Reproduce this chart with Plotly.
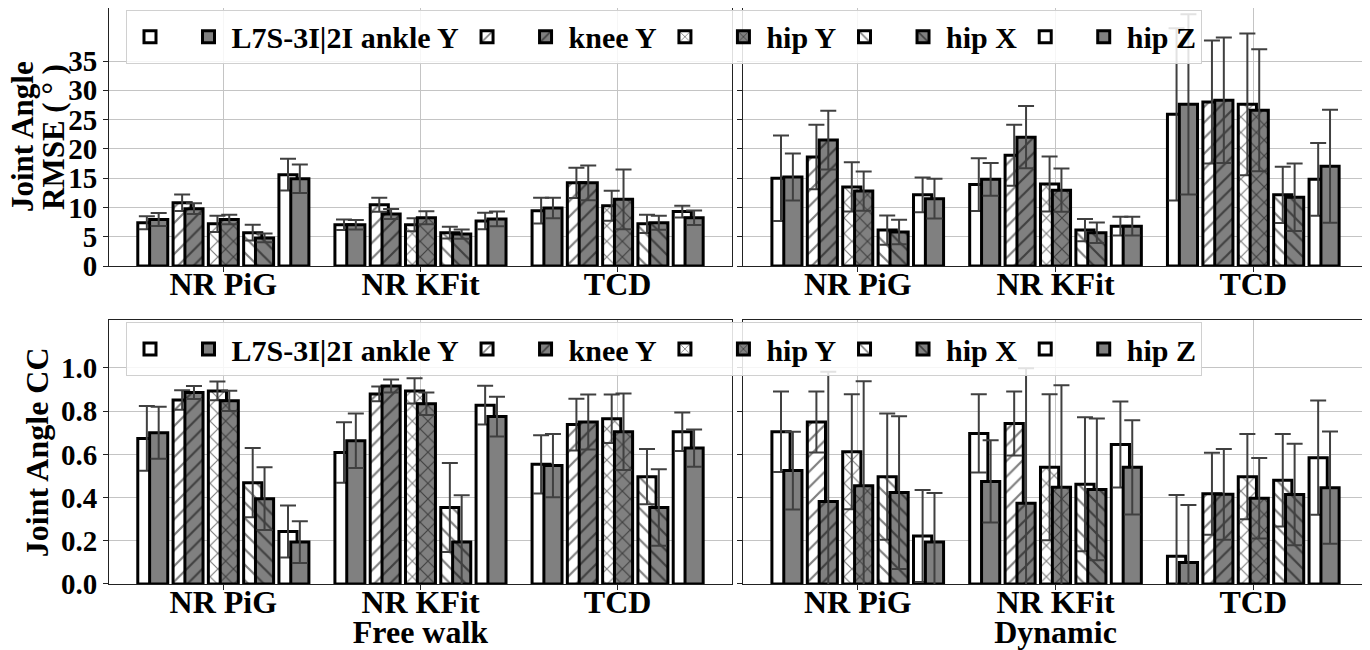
import plotly.graph_objects as go

categories = ["NR PiG", "NR KFit", "TCD"]
joints = ["L7S-3I|2I ankle Y", "knee Y", "hip Y", "hip X", "hip Z"]
patterns = ["", "/", "x", "\\", ""]

# values are [joint][category]
rmse_free_w = [[7.4, 7.05, 9.45], [10.8, 10.45, 14.2], [7.2, 7.05, 10.3], [5.7, 5.7, 7.2], [15.6, 7.7, 9.3]]
rmse_free_w_err = [[1.1, 0.9, 2.2], [1.4, 1.2, 2.6], [1.4, 1.1, 2.55], [1.35, 1.0, 1.55], [2.7, 1.4, 1.0]]
rmse_free_g = [[7.95, 7.05, 9.9], [9.8, 8.9, 14.2], [7.95, 8.25, 11.4], [4.8, 5.45, 7.4], [14.9, 8.05, 8.25]]
rmse_free_g_err = [[1.1, 0.8, 1.75], [0.9, 0.85, 2.95], [0.8, 1.1, 5.1], [0.75, 0.8, 1.2], [2.45, 1.25, 1.25]]

rmse_dyn_w = [[15.0, 13.9, 25.9], [18.6, 18.9, 28.0], [13.5, 14.0, 27.6], [6.15, 6.15, 12.15], [12.15, 6.8, 14.8]]
rmse_dyn_w_err = [[7.3, 4.5, 14.7], [5.5, 5.2, 10.5], [4.2, 4.7, 12.1], [2.5, 1.9, 4.8], [2.95, 1.6, 6.2]]
rmse_dyn_g = [[15.2, 14.8, 27.6], [21.5, 22.0, 28.3], [12.8, 12.95, 26.6], [5.8, 5.7, 11.75], [11.5, 6.8, 17.05]]
rmse_dyn_g_err = [[4.0, 2.8, 15.4], [5.0, 5.3, 10.7], [3.35, 3.7, 10.4], [2.1, 1.75, 5.75], [3.4, 1.6, 9.65]]

cc_free_w = [[0.674, 0.609, 0.554], [0.852, 0.88, 0.738], [0.894, 0.894, 0.765], [0.469, 0.354, 0.497], [0.243, 0.828, 0.705]]
cc_free_w_err = [[0.15, 0.14, 0.135], [0.045, 0.034, 0.12], [0.043, 0.058, 0.112], [0.16, 0.206, 0.128], [0.12, 0.09, 0.089]]
cc_free_g = [[0.70, 0.663, 0.548], [0.886, 0.917, 0.75], [0.848, 0.834, 0.705], [0.395, 0.194, 0.354], [0.194, 0.775, 0.629]]
cc_free_g_err = [[0.12, 0.126, 0.146], [0.03, 0.03, 0.127], [0.047, 0.052, 0.177], [0.145, 0.217, 0.177], [0.097, 0.092, 0.086]]

cc_dyn_w = [[0.705, 0.697, 0.129], [0.75, 0.743, 0.418], [0.612, 0.54, 0.497], [0.497, 0.462, 0.48], [0.222, 0.646, 0.585]]
cc_dyn_w_err = [[0.186, 0.181, 0.283], [0.141, 0.148, 0.19], [0.266, 0.338, 0.197], [0.292, 0.31, 0.214], [0.213, 0.199, 0.264]]
cc_dyn_g = [[0.525, 0.475, 0.10], [0.382, 0.374, 0.415], [0.455, 0.448, 0.397], [0.423, 0.438, 0.414], [0.194, 0.54, 0.446]]
cc_dyn_g_err = [[0.18, 0.19, 0.266], [0.6, 0.625, 0.21], [0.483, 0.472, 0.186], [0.354, 0.328, 0.235], [0.227, 0.218, 0.26]]

FONT = "Liberation Serif"
GRAY = "#808080"
ERR = "#404040"
PAIR_STEP = 0.179
BAR_W = 0.092
OFFSET = 0.06

fig = go.Figure()

panels = [
    ("x", "y", rmse_free_w, rmse_free_w_err, rmse_free_g, rmse_free_g_err, "legend"),
    ("x2", "y2", rmse_dyn_w, rmse_dyn_w_err, rmse_dyn_g, rmse_dyn_g_err, None),
    ("x3", "y3", cc_free_w, cc_free_w_err, cc_free_g, cc_free_g_err, "legend2"),
    ("x4", "y4", cc_dyn_w, cc_dyn_w_err, cc_dyn_g, cc_dyn_g_err, None),
]

for xa, ya, w_vals, w_err, g_vals, g_err, leg in panels:
    for j, joint in enumerate(joints):
        centre = [c + (j - 2) * PAIR_STEP for c in range(len(categories))]
        for vals, errs, colour, shift, name in [
            (w_vals, w_err, "white", -OFFSET / 2, " "),
            (g_vals, g_err, GRAY, OFFSET / 2, joint),
        ]:
            fig.add_trace(go.Bar(
                x=[c + shift for c in centre], y=vals[j], width=BAR_W,
                xaxis=xa, yaxis=ya, name=name,
                legend=leg if leg else "legend", showlegend=leg is not None,
                marker=dict(color=colour,
                            line=dict(color="black", width=3),
                            pattern=dict(shape=patterns[j], fgcolor="black",
                                         bgcolor=colour, size=11, solidity=0.2)),
                error_y=dict(type="data", array=errs[j], color=ERR,
                             thickness=2, width=8),
            ))

# the page body adds an 8px offset, so the figure is 8px smaller than the window
left_dom = [0.0, 0.4948]
right_dom = [0.5036, 1.0]
top_dom = [0.552, 1.0]
bot_dom = [0.0, 0.4583]

xcommon = dict(range=[-0.58, 2.58], tickvals=[0, 1, 2], ticktext=categories,
               showgrid=True, gridcolor="#c4c4c4", gridwidth=1,
               showline=True, mirror=True, linecolor="#222", linewidth=1,
               ticks="outside", ticklen=5, tickcolor="#222",
               ticklabelstandoff=-15, automargin=False,
               tickfont=dict(family=FONT, size=32, color="black", weight="bold"),
               zeroline=False)
ycommon = dict(showgrid=True, gridcolor="#c4c4c4", gridwidth=1,
               showline=True, mirror=True, linecolor="#222", linewidth=1,
               ticks="outside", ticklen=5, tickcolor="#222", automargin=False,
               tickfont=dict(family=FONT, size=29, color="black", weight="bold"),
               zeroline=False)

title_font = dict(family=FONT, size=32, color="black", weight="bold")
ytitle_font = dict(family=FONT, size=31, color="black", weight="bold")
legend_font = dict(family=FONT, size=30, color="black", weight="bold")

fig.update_layout(
    width=1362, height=642,
    margin=dict(l=101, r=2, t=0, b=66),
    plot_bgcolor="white", paper_bgcolor="white",
    barmode="overlay",
    font=dict(family=FONT, color="black", weight="bold"),
    xaxis=dict(domain=left_dom, anchor="y", **xcommon),
    yaxis=dict(domain=top_dom, anchor="x", range=[0, 44.05],
               tickvals=[0, 5, 10, 15, 20, 25, 30, 35], **ycommon),
    xaxis2=dict(domain=right_dom, anchor="y2", **xcommon),
    yaxis2=dict(domain=top_dom, anchor="x2", range=[0, 44.05],
                tickvals=[0, 5, 10, 15, 20, 25, 30, 35], showticklabels=False,
                **ycommon),
    xaxis3=dict(domain=left_dom, anchor="y3", title=dict(text="Free walk", font=title_font, standoff=2),
                **xcommon),
    yaxis3=dict(domain=bot_dom, anchor="x3", range=[0, 1.222],
                tickvals=[0, 0.2, 0.4, 0.6, 0.8, 1.0], tickformat=".1f", **ycommon),
    xaxis4=dict(domain=right_dom, anchor="y4", title=dict(text="Dynamic", font=title_font, standoff=2),
                **xcommon),
    yaxis4=dict(domain=bot_dom, anchor="x4", range=[0, 1.222],
                tickvals=[0, 0.2, 0.4, 0.6, 0.8, 1.0], showticklabels=False, **ycommon),
    legend=dict(orientation="h", x=0.0135, y=0.997, xanchor="left", yanchor="top",
                bgcolor="rgba(255,255,255,0.85)", bordercolor="#d0d0d0", borderwidth=1,
                font=legend_font, itemwidth=36, tracegroupgap=0),
    legend2=dict(orientation="h", x=0.0135, y=0.455, xanchor="left", yanchor="top",
                 bgcolor="rgba(255,255,255,0.85)", bordercolor="#d0d0d0", borderwidth=1,
                 font=legend_font, itemwidth=36, tracegroupgap=0),
    annotations=[
        dict(text="Joint Angle", xref="paper", yref="paper",
             x=-0.0691, y=sum(top_dom) / 2, textangle=-90, showarrow=False,
             xanchor="center", yanchor="middle", font=ytitle_font),
        dict(text="RMSE ( ° )", xref="paper", yref="paper",
             x=-0.0445, y=sum(top_dom) / 2, textangle=-90, showarrow=False,
             xanchor="center", yanchor="middle", font=ytitle_font),
        dict(text="Joint Angle CC", xref="paper", yref="paper",
             x=-0.0570, y=sum(bot_dom) / 2, textangle=-90, showarrow=False,
             xanchor="center", yanchor="middle", font=title_font),
    ],
)

fig.write_html("out.html")
